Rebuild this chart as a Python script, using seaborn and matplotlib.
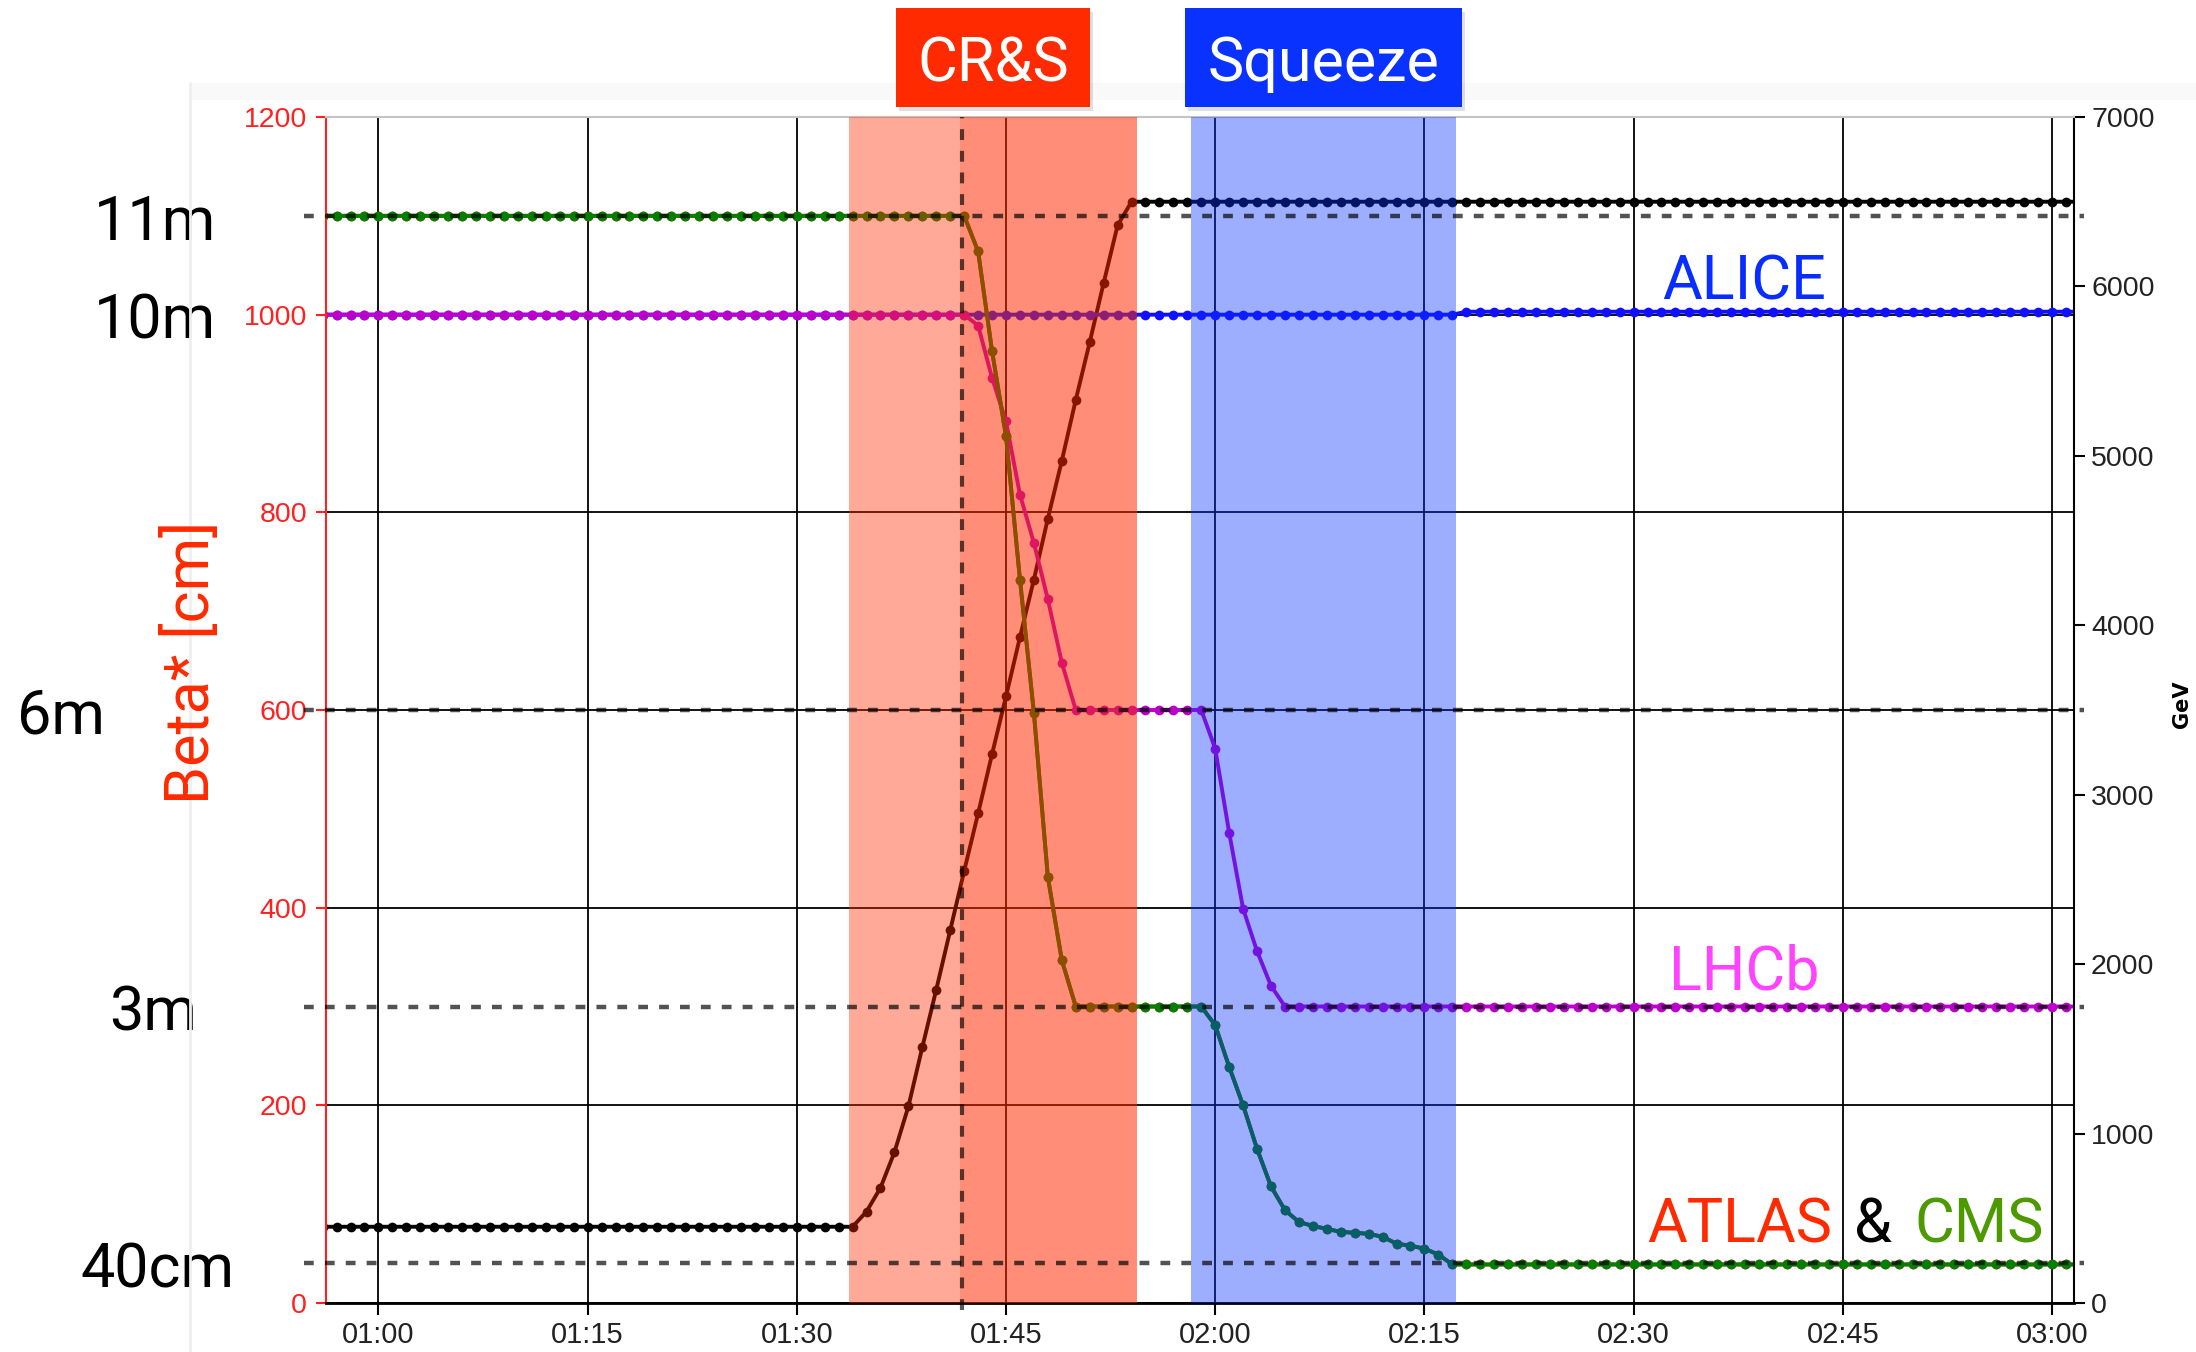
import matplotlib
matplotlib.use('Agg')
import matplotlib.pyplot as plt
from matplotlib.patches import Rectangle
from matplotlib.transforms import blended_transform_factory, ScaledTranslation
import seaborn as sns

# one logged sample per minute, time in minutes after 00:00
minutes = list(range(56, 183))

energy_gev = [450] * 39 + [540, 680, 890, 1160, 1510, 1850, 2200, 2550, 2890, 3240,
                           3580, 3930, 4270, 4630, 4970, 5330, 5670, 6020, 6360] + [6500] * 69
beta_atlas_cms = ([1100] * 47 + [1064, 963, 877, 732, 597, 431, 347] + [300] * 10 +
                  [281, 239, 200, 156, 118, 94, 82, 78, 75, 72, 71, 70, 67, 60, 58, 55, 49] +
                  [39] * 46)
beta_lhcb = [1000] * 47 + [989, 936, 892, 818, 769, 712, 648] + [600] * 10 + \
    [561, 476, 399, 356, 321] + [300] * 58
beta_alice = [1000] * 82 + [1003] * 45

ref_levels = [1100, 600, 300, 40]
side_labels = ['11m', '10m', '6m', '3m', '40cm']
side_values = [1100, 1000, 600, 300, 40]
side_right_px = [216, 216, 105, 197, 234]

x_ticks = [60, 75, 90, 105, 120, 135, 150, 165, 180]
x_tick_labels = ['01:00', '01:15', '01:30', '01:45', '02:00', '02:15', '02:30', '02:45', '03:00']
beta_ticks = [0, 200, 400, 600, 800, 1000, 1200]
energy_ticks = [0, 1000, 2000, 3000, 4000, 5000, 6000, 7000]

crs_window = (93.77, 114.39)
crs_late = (101.70, 114.39)
squeeze_window = (118.26, 137.30)
crs_marker = 101.86

RED = '#ff2a00'
BLUE = '#0a32ff'
BIG = 44

sns.set_style('white')
plt.rcParams['font.family'] = ['Roboto', 'DejaVu Sans']

W, H = 2196, 1352
fig = plt.figure(figsize=(W / 100, H / 100), dpi=100)
down = ScaledTranslation(0, -0.07, fig.dpi_scale_trans)

# light frame of the original screenshot
fig.patches.append(Rectangle((190 / W, 1 - 100 / H), 1, 17 / H, transform=fig.transFigure,
                             color='#f9f9f9', lw=0, zorder=0))
fig.lines.append(plt.Line2D([190 / W, 190 / W], [0, 1 - 83 / H], transform=fig.transFigure,
                            color='#efefef', lw=2))

ax = fig.add_axes([326 / W, 1 - 1303 / H, (2074 - 326) / W, (1303 - 117) / H])
ax_b = ax.twinx()
ax.yaxis.tick_right()
ax_b.yaxis.tick_left()

ax.set_xlim(56.24, 181.58)
ax.set_ylim(0, 7000)
ax_b.set_ylim(0, 1200)

# energy on the lower axes, beta* on the twin drawn above it
line_kw = dict(marker='o', markersize=7, markeredgewidth=0, linewidth=2.8, zorder=2,
               legend=False)
sns.lineplot(x=minutes, y=energy_gev, ax=ax, color='black', **line_kw)
for vals, col in [(beta_alice, '#1010ff'), (beta_lhcb, '#bb00cc'),
                  (beta_atlas_cms, '#ff0000'), (beta_atlas_cms, '#008000')]:
    sns.lineplot(x=minutes, y=vals, ax=ax_b, color=col, **line_kw)

ax_b.axvspan(*crs_window, color=RED, alpha=0.4, lw=0, zorder=3)
ax_b.axvspan(*crs_late, color=RED, alpha=0.22, lw=0, zorder=3)
ax_b.axvspan(*squeeze_window, color=BLUE, alpha=0.4, lw=0, zorder=3)

for lvl in ref_levels:
    ax_b.axhline(lvl, xmin=-0.0126, xmax=1.0057, color='black', alpha=0.68, lw=3.2,
                 ls=(0, (2.2, 2.5)), clip_on=False, zorder=4)
ax_b.axvline(crs_marker, ymin=-0.006, ymax=1, color='black', alpha=0.65, lw=3.0,
             ls=(0, (2.6, 2.6)), clip_on=False, zorder=4)

# ticks and grid
ax.set_xticks(x_ticks)
ax.set_xticklabels(x_tick_labels, fontfamily='Liberation Sans')
ax.set_yticks(energy_ticks)
ax.set_yticklabels([str(v) for v in energy_ticks], fontfamily='Liberation Sans')
ax_b.set_yticks(beta_ticks)
ax_b.set_yticklabels([str(v) for v in beta_ticks], fontfamily='Liberation Sans')
ax.grid(axis='x', color='black', lw=1.3)
ax.grid(axis='y', visible=False)
ax_b.set_axisbelow(True)
ax_b.grid(axis='y', color='black', lw=1.3)
ax_b.get_ygridlines()[-1].set_visible(False)
ax.set_xlabel('')
ax.set_ylabel('')
ax_b.set_ylabel('')

for s in ax.spines.values():
    s.set_visible(False)
ax_b.spines['left'].set_color('#ff2020')
ax_b.spines['left'].set_linewidth(1.5)
ax_b.spines['right'].set_color('black')
ax_b.spines['right'].set_linewidth(1.5)
ax_b.spines['bottom'].set_color('black')
ax_b.spines['bottom'].set_linewidth(2)
ax_b.spines['top'].set_color('#c4c4c4')
ax_b.spines['top'].set_linewidth(1.5)

ax.tick_params(axis='x', bottom=True, length=8.6, width=1.5, color='black',
               labelsize=21, labelcolor='#222222', pad=4.5)
ax.tick_params(axis='y', right=True, left=False, length=8, width=1.5, color='black',
               labelsize=20.5, labelcolor='#222222', pad=4.3)
ax_b.tick_params(axis='y', left=True, right=False, length=7, width=1.5, colors='#ff2020',
                 labelsize=20.5, pad=6.5)

# experiment labels
tr = ax_b.transData + down
ax_b.text(157.9, 1040, 'ALICE', color='#0a2dff', fontsize=BIG, transform=tr,
          ha='center', va='center', zorder=5)
ax_b.text(157.9, 341, 'LHCb', color='#ff44ff', fontsize=BIG, transform=tr,
          ha='center', va='center', zorder=5)
ax_b.text(164.2, 86, 'ATLAS', color=RED, fontsize=BIG, transform=tr,
          ha='right', va='center', zorder=5)
ax_b.text(167.2, 86, '&', color='black', fontsize=BIG, transform=tr,
          ha='center', va='center', zorder=5)
ax_b.text(170.1, 86, 'CMS', color='#4c9a00', fontsize=BIG, transform=tr,
          ha='left', va='center', zorder=5)

# beta* values written on the left
trans = blended_transform_factory(fig.transFigure, ax_b.transData) + down
for lab, val, px in zip(side_labels, side_values, side_right_px):
    ax_b.text(px / W, val, lab, transform=trans, fontsize=BIG,
              color='black', ha='right', va='center', clip_on=False)

fig.text(192 / W, 1 - 662 / H, 'Beta* [cm]', rotation=90, color=RED, fontsize=BIG,
         ha='center', va='center')
fig.text(2182 / W, 1 - 704 / H, 'GeV', rotation=90, color='black', fontsize=15,
         fontweight='bold', ha='center', va='center', fontfamily='DejaVu Sans')

# phase boxes
for x0, x1, name, col in [(896, 1090, 'CR&S', RED), (1185, 1462, 'Squeeze', BLUE)]:
    fig.patches.append(Rectangle(((x0 + 3) / W, 1 - 111 / H), (x1 - x0) / W, 99 / H,
                                 transform=fig.transFigure, color='black', alpha=0.12,
                                 lw=0, zorder=1))
    fig.patches.append(Rectangle((x0 / W, 1 - 107 / H), (x1 - x0) / W, 99 / H,
                                 transform=fig.transFigure, color=col, lw=0, zorder=2))
    fig.text((x0 + x1) / 2 / W, 1 - 57 / H, name, color='white', fontsize=BIG,
             ha='center', va='center', zorder=3, transform=fig.transFigure + down)

fig.savefig('out.png', dpi=100)
